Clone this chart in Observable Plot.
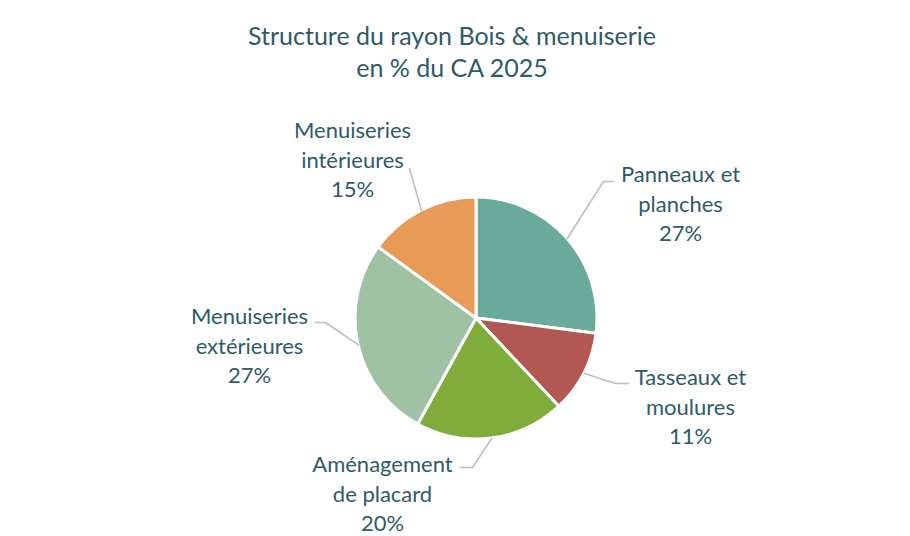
<!DOCTYPE html>
<html><head><meta charset="utf-8">
<script src="https://cdn.jsdelivr.net/npm/d3@7"></script>
<script src="https://cdn.jsdelivr.net/npm/@observablehq/plot@0.6"></script>
<style>
body{margin:0;background:#fff;font-family:Lato,"Open Sans",sans-serif;}
#title{box-sizing:border-box;height:90px;padding-top:19px;text-align:center;color:#2e5b67;font-size:25px;line-height:32px;width:904px;}
#chart svg{display:block;}
</style></head><body>
<div id="title">Structure du rayon Bois &amp; menuiserie<br>en % du CA 2025</div>
<div id="chart"></div>
<script>
// ---- data ----
const categories = ["Panneaux et planches","Tasseaux et moulures","Aménagement de placard","Menuiseries extérieures","Menuiseries intérieures"];
const labelLines = [["Panneaux et","planches"],["Tasseaux et","moulures"],["Aménagement","de placard"],["Menuiseries","extérieures"],["Menuiseries","intérieures"]];
const shares = [27, 11, 20, 27, 15];

// ---- styles / layout ----
const colors = ["#6aaa9a","#b25752","#80ac3c","#9fc2a5","#e89b57"];
const textColor = "#2e5b67";
const R = 121; // pie radius (px)
// label placement (offset of label's middle line from pie centre, px), leader end point and elbow
const labelLayout = [
  {lx: 204, ly: -114, ex: 137, ey: -137, elbow: -10},
  {lx: 214, ly: 89,  ex: 152, ey: 65,   elbow: -13},
  {lx: -94, ly: 176, ex: -16, ey: 149,  elbow: 12},
  {lx: -227, ly: 28, ex: -161, ey: 4,   elbow: 10},
  {lx: -124, ly: -158, ex: -67, ey: -150, elbow: 0}
];

const table = categories.map((c, i) => ({category: c, share: shares[i], lines: labelLines[i], layout: labelLayout[i]}));
const arcs = d3.pie().value(d => d.share).sort(null)(table);
const colorOf = d3.scaleOrdinal(categories, colors);

// leader lines
const leaders = [];
arcs.forEach(a => {
  const m = (a.startAngle + a.endAngle) / 2;
  const L = a.data.layout;
  leaders.push({k: a.data.category, x: R * Math.sin(m), y: -R * Math.cos(m)});
  if (L.elbow) leaders.push({k: a.data.category, x: L.ex + L.elbow, y: L.ey});
  leaders.push({k: a.data.category, x: L.ex, y: L.ey});
});

// label lines
const texts = [];
table.forEach(d => {
  const lines = [...d.lines, d.share + "%"];
  lines.forEach((t, j) => texts.push({text: t, x: d.layout.lx, y: d.layout.ly + (j - 1) * 29.5}));
});

function pieMark(index, scales) {
  const cx = scales.x(0), cy = scales.y(0);
  const r = scales.x(R) - scales.x(0);
  const g = d3.create("svg:g").attr("transform", `translate(${cx},${cy})`);
  g.selectAll("path").data(arcs).join("path")
    .attr("d", d3.arc().innerRadius(0).outerRadius(r))
    .attr("fill", d => colorOf(d.data.category))
    .attr("stroke", "#fff").attr("stroke-width", 3).attr("stroke-linejoin", "round");
  return g.node();
}

const W = 910, H = 446, CX = 476, CY = 228;
const chart = Plot.plot({
  width: W, height: H,
  margin: 0,
  x: {domain: [-CX, W - CX], range: [0, W], axis: null},
  y: {domain: [-CY, H - CY], range: [0, H], axis: null},
  style: {fontFamily: "Lato, 'Open Sans', sans-serif", background: "#fff"},
  marks: [
    pieMark,
    Plot.line(leaders, {x: "x", y: "y", z: "k", stroke: "#bfbfbf", strokeWidth: 1.6}),
    Plot.text(texts, {x: "x", y: "y", text: "text", fill: textColor, fontSize: 22, textAnchor: "middle"})
  ]
});
document.getElementById("chart").appendChild(chart);
</script>
</body></html>
